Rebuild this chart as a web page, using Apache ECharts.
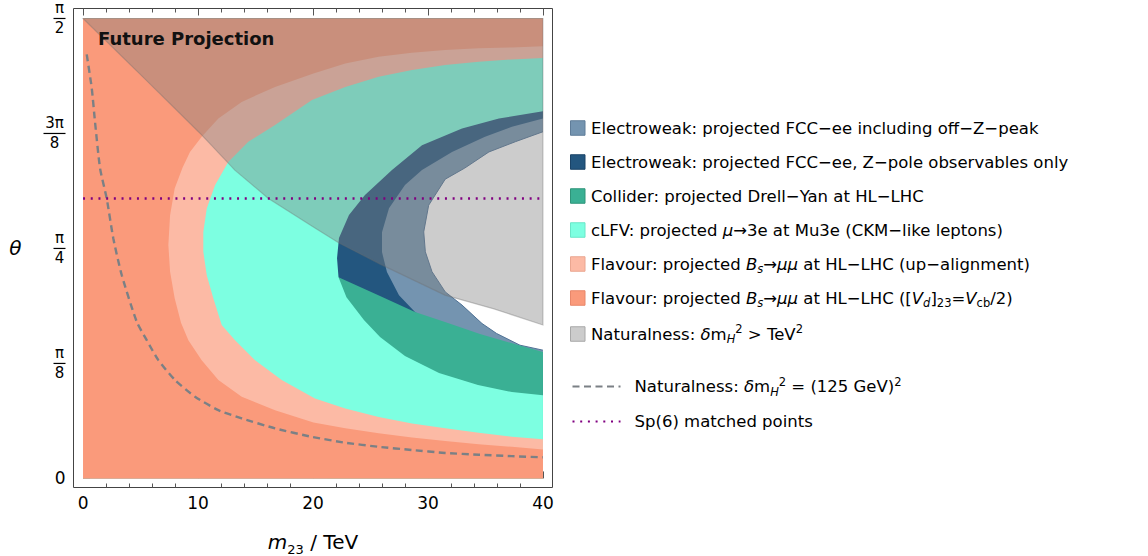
<!DOCTYPE html>
<html><head><meta charset="utf-8">
<script src="https://cdn.jsdelivr.net/npm/echarts@6/dist/echarts.min.js"></script>
<style>html,body{margin:0;padding:0;background:#fff}#c{width:1148px;height:556px}</style>
</head><body><div id="c"></div>
<script>
// ---------- axis ticks / labels ----------
const X_TICKS = [0, 10, 20, 30, 40];
const X_MINOR_TICKS = [2, 4, 6, 8, 12, 14, 16, 18, 22, 24, 26, 28, 32, 34, 36, 38];
const Y_TICKS = [0, Math.PI / 8, Math.PI / 4, 3 * Math.PI / 8, Math.PI / 2];
const Y_TICK_LABELS = ['0', 'π/8', 'π/4', '3π/8', 'π/2'];
const X_RANGE = [0, 40];
const Y_RANGE = [0, Math.PI / 2];

// ---------- series names ----------
const NAME_OFFZ = 'Electroweak: projected FCC−ee including off−Z−peak';
const NAME_ZPOLE = 'Electroweak: projected FCC−ee, Z−pole observables only';
const NAME_COLLIDER = 'Collider: projected Drell−Yan at HL−LHC';
const NAME_CLFV = 'cLFV: projected μ→3e at Mu3e (CKM−like leptons)';
const NAME_FLAV_UP = 'Flavour: projected Bs→μμ at HL−LHC (up−alignment)';
const NAME_FLAV_VD = 'Flavour: projected Bs→μμ at HL−LHC ([Vd]23=Vcb/2)';
const NAME_NAT_TEV = 'Naturalness: δmH2 > TeV2';
const NAME_NAT_125 = 'Naturalness: δmH2 = (125 GeV)2';
const NAME_SP6 = 'Sp(6) matched points';

// ---------- boundary curves, [m23 (TeV), theta (rad)] ----------
const offZBoundary = [
  [40, 1.184], [37.6, 1.150], [35.3, 1.115], [33.2, 1.060], [31.5, 1.022], [30.06, 0.933],
  [29.63, 0.842], [29.77, 0.774], [30.35, 0.706], [31.5, 0.637], [32.96, 0.592],
  [34.7, 0.529], [35.97, 0.495], [38.0, 0.455], [40, 0.438]
];
const zPoleBoundary = [
  [40, 1.229], [37.3, 1.201], [34.96, 1.167], [32.09, 1.115], [29.48, 1.053], [28.0, 1.002],
  [26.61, 0.923], [26.0, 0.841], [26.0, 0.773], [26.43, 0.705], [27.48, 0.626],
  [28.87, 0.568], [31.04, 0.513], [34.5, 0.462], [40, 0.404]
];
const colliderEdge = [
  [22.22, 0.687], [25.83, 0.623], [28.87, 0.568], [31.48, 0.534], [34.52, 0.493],
  [37.91, 0.455], [40, 0.432]
];
const cLFVBoundary = [
  [40, 1.254], [36.17, 1.229], [32.96, 1.195], [29.48, 1.138], [26.87, 1.053], [24.52, 0.968],
  [23.13, 0.900], [22.26, 0.821], [22.09, 0.752], [22.22, 0.687], [22.91, 0.619],
  [24.43, 0.541], [25.83, 0.483], [28.0, 0.418], [30.96, 0.360], [34.35, 0.319],
  [37.3, 0.295], [40, 0.284]
];
const flavourUpBoundary = [
  [40, 1.436], [37.3, 1.431], [34.41, 1.423], [31.5, 1.412], [28.61, 1.395], [25.71, 1.372],
  [22.81, 1.337], [19.91, 1.292], [16.7, 1.207], [14.37, 1.150], [12.63, 1.081],
  [11.48, 1.001], [10.76, 0.922], [10.46, 0.842], [10.46, 0.774], [10.76, 0.694],
  [11.33, 0.615], [12.06, 0.524], [13.22, 0.472], [14.96, 0.404], [17.28, 0.336],
  [20.17, 0.273], [22.81, 0.239], [25.71, 0.210], [28.61, 0.188], [31.5, 0.171],
  [34.41, 0.156], [37.3, 0.142], [40, 0.134]
];
const flavourVdBoundary = [
  [40, 1.476], [37.3, 1.472], [34.41, 1.469], [31.5, 1.463], [28.61, 1.454], [25.71, 1.440],
  [22.81, 1.417], [20.04, 1.383], [16.7, 1.337], [13.8, 1.286], [11.77, 1.229],
  [10.32, 1.167], [9.3, 1.115], [8.65, 1.061], [7.97, 0.990], [7.57, 0.899], [7.42, 0.797],
  [7.57, 0.706], [7.97, 0.615], [8.52, 0.532], [9.16, 0.472], [10.32, 0.404],
  [11.77, 0.336], [13.8, 0.279], [16.7, 0.233], [20.04, 0.191], [22.81, 0.171],
  [25.71, 0.154], [28.61, 0.140], [31.5, 0.128], [34.41, 0.117], [37.3, 0.108], [40, 0.099]
];
const naturalnessTeVEdge = [
  [0, 1.5708], [5, 1.379], [10.17, 1.179], [13.2, 1.053], [16.09, 0.957], [20.17, 0.855],
  [22.26, 0.804], [25.83, 0.732], [31.48, 0.626], [35.74, 0.579], [40, 0.524]
];
const naturalness125Curve = [
  [0.32, 1.448], [0.76, 1.332], [1.04, 1.218], [1.48, 1.059], [2.06, 0.956], [2.63, 0.820],
  [3.37, 0.694], [4.67, 0.535], [5.54, 0.472], [6.55, 0.404], [8.0, 0.336], [9.74, 0.279],
  [11.77, 0.233], [13.8, 0.205], [16.7, 0.171], [19.89, 0.142], [22.81, 0.122],
  [25.71, 0.108], [28.61, 0.097], [31.5, 0.087], [34.41, 0.081], [37.3, 0.076], [40, 0.072]
];
const sp6Theta = 0.956;
const sp6Line = [[X_RANGE[0], sp6Theta], [X_RANGE[1], sp6Theta]];

// ---------- styles ----------
const FONT = "'DejaVu Sans', 'Liberation Sans', Arial, sans-serif";
const COLORS = {
  offZ: '#7494B0', zPole: '#23567F', collider: '#3AB094', cLFV: '#7DFFE1',
  flavUp: '#FCBAA5', flavVd: '#FA9A7B', natural: 'rgba(127,127,127,0.4)'
};

const LEGEND_RICH = {};
LEGEND_RICH[NAME_CLFV] = 'cLFV: projected {i|μ}→3e at Mu3e (CKM−like leptons)';
LEGEND_RICH[NAME_FLAV_UP] = 'Flavour: projected {i|B}{si|s}→{i|μμ} at HL−LHC (up−alignment)';
LEGEND_RICH[NAME_FLAV_VD] = 'Flavour: projected {i|B}{si|s}→{i|μμ} at HL−LHC ([{i|V}{si|d}]{s|23}={i|V}{s|cb}/2)';
LEGEND_RICH[NAME_NAT_TEV] = 'Naturalness: {i|δ}m{si|H}{p|2} > TeV{p|2}';
LEGEND_RICH[NAME_NAT_125] = 'Naturalness: {i|δ}m{si|H}{p|2} = (125 GeV){p|2}';

// ---------- polygon builders (from data ranges) ----------
function leftOfCurve(curve) {
  return curve.concat([[X_RANGE[1], Y_RANGE[0]], [X_RANGE[0], Y_RANGE[0]],
                       [X_RANGE[0], Y_RANGE[1]], [X_RANGE[1], Y_RANGE[1]]]);
}
function belowEdge(edge) {
  const f = edge[0];
  return edge.concat([[X_RANGE[1], Y_RANGE[0]], [f[0] - 1, Y_RANGE[0]], [f[0] - 1, f[1]]]);
}
function aboveEdge(edge) {
  return edge.concat([[X_RANGE[1], Y_RANGE[1]]]);
}

function regionSeries(name, polygon, fill, legendBorder, opts) {
  opts = opts || {};
  return {
    name, type: 'custom', coordinateSystem: 'cartesian2d', silent: true, z: 2,
    itemStyle: { color: fill, borderColor: legendBorder, borderWidth: 1 },
    data: polygon,
    renderItem(params, api) {
      if (params.dataIndex !== 0) return null;
      const pts = polygon.map(p => api.coord(p));
      const children = [{
        type: 'polygon', shape: { points: pts },
        style: { fill: fill, stroke: opts.stroke || null, lineWidth: opts.stroke ? 1.2 : 0 }
      }];
      if (opts.edge) {
        children.push({
          type: 'polyline', shape: { points: opts.edge.map(p => api.coord(p)) },
          style: { fill: null, stroke: opts.edgeColor, lineWidth: 1 }
        });
      }
      return { type: 'group', children };
    }
  };
}

function xAxisDef(pos, ticks, len, withLabels, extra) {
  return Object.assign({
    type: 'value', position: pos, min: -0.83, max: 40.83,
    axisLine: { show: false }, splitLine: { show: false },
    axisTick: { show: true, inside: true, length: len, customValues: ticks, lineStyle: { color: '#555', width: 1 } },
    axisLabel: withLabels ? { show: true, customValues: ticks, fontSize: 17, color: '#000', margin: 7, fontFamily: FONT } : { show: false }
  }, extra || {});
}

const legendText = {
  fontFamily: FONT, fontSize: 16.5, color: '#000', lineHeight: 22,
  rich: {
    i: { fontFamily: FONT, fontSize: 16.5, fontStyle: 'italic', lineHeight: 22, verticalAlign: 'middle' },
    s: { fontFamily: FONT, fontSize: 11.5, lineHeight: 22, verticalAlign: 'bottom' },
    si: { fontFamily: FONT, fontSize: 11.5, fontStyle: 'italic', lineHeight: 22, verticalAlign: 'bottom' },
    p: { fontFamily: FONT, fontSize: 11.5, lineHeight: 22, verticalAlign: 'top' }
  }
};
const legendFormatter = name => LEGEND_RICH[name] || name;

const chart = echarts.init(document.getElementById('c'), null, { renderer: 'svg' });
chart.setOption({
  animation: false,
  backgroundColor: '#fff',
  textStyle: { fontFamily: FONT },
  title: {
    text: 'Future Projection', left: 98, top: 28, padding: 0,
    textStyle: { fontFamily: FONT, fontSize: 18, fontWeight: 'bold', color: '#111', lineHeight: 20 }
  },
  grid: {
    show: true, left: 73.5, top: 8.5, width: 479, height: 479,
    borderColor: '#444', borderWidth: 1, backgroundColor: 'transparent',
    containLabel: false, outerBoundsMode: 'none'
  },
  xAxis: [
    xAxisDef('bottom', X_TICKS, 7, true, {
      name: '{i|m}{s|23} / TeV', nameLocation: 'middle', nameGap: 40,
      nameTextStyle: {
        fontFamily: FONT, fontSize: 20, color: '#000', lineHeight: 28,
        rich: {
          i: { fontFamily: FONT, fontSize: 20, fontStyle: 'italic', lineHeight: 28, verticalAlign: 'middle' },
          s: { fontFamily: FONT, fontSize: 13, lineHeight: 28, verticalAlign: 'bottom' }
        }
      }
    }),
    xAxisDef('bottom', X_MINOR_TICKS, 4, false),
    xAxisDef('top', X_TICKS, 7, false),
    xAxisDef('top', X_MINOR_TICKS, 4, false)
  ],
  yAxis: [{
    type: 'value', position: 'left', min: -0.031, max: 1.6049,
    axisLine: { show: false }, splitLine: { show: false },
    axisTick: { show: true, inside: true, length: 7, customValues: Y_TICKS, lineStyle: { color: '#555', width: 1 } },
    axisLabel: {
      show: true, customValues: Y_TICKS, margin: 8, fontSize: 17, color: '#000', fontFamily: FONT,
      align: 'right', verticalAlign: 'middle',
      formatter: v => {
        const i = Y_TICKS.findIndex(t => Math.abs(t - v) < 1e-6);
        const lab = Y_TICK_LABELS[i < 0 ? 0 : i];
        if (lab.indexOf('/') < 0) return lab;
        const parts = lab.split('/');
        return '{n|' + parts[0] + '}\n{' + (parts[0].length > 1 ? 'barW' : 'bar') + '| }\n{d|' + parts[1] + '}';
      },
      rich: {
        n: { fontFamily: FONT, fontSize: 15, lineHeight: 16, align: 'center', color: '#000' },
        d: { fontFamily: FONT, fontSize: 15, lineHeight: 16, align: 'center', color: '#000' },
        bar: { width: 12, height: 1.2, lineHeight: 4, fontSize: 4, backgroundColor: '#000', align: 'center' },
        barW: { width: 22, height: 1.2, lineHeight: 4, fontSize: 4, backgroundColor: '#000', align: 'center' }
      }
    },
    name: 'θ', nameLocation: 'middle', nameGap: 52, nameRotate: 0,
    nameTextStyle: { fontFamily: FONT, fontSize: 20, fontStyle: 'italic', color: '#000' }
  }],
  legend: [
    {
      orient: 'vertical', left: 570, top: 117, padding: 0, itemGap: 12, selectedMode: false,
      icon: 'rect', itemWidth: 14.5, itemHeight: 14.5,
      textStyle: Object.assign({}, legendText, { padding: [0, 0, 0, 1] }), formatter: legendFormatter,
      data: [
        { name: NAME_OFFZ, itemStyle: { borderColor: '#5f7c98', borderWidth: 1 } },
        { name: NAME_ZPOLE, itemStyle: { borderColor: '#1a4367', borderWidth: 1 } },
        { name: NAME_COLLIDER, itemStyle: { borderColor: '#2f9479', borderWidth: 1 } },
        { name: NAME_CLFV, itemStyle: { borderColor: '#6ae6c8', borderWidth: 1 } },
        { name: NAME_FLAV_UP, itemStyle: { borderColor: '#eaa690', borderWidth: 1 } },
        { name: NAME_FLAV_VD, itemStyle: { borderColor: '#e8876a', borderWidth: 1 } }
      ]
    },
    {
      orient: 'vertical', left: 570, top: 323, padding: 0, selectedMode: false,
      icon: 'rect', itemWidth: 14.5, itemHeight: 14.5,
      textStyle: Object.assign({}, legendText, { padding: [0, 0, 0, 1] }), formatter: legendFormatter,
      data: [{ name: NAME_NAT_TEV, itemStyle: { borderColor: '#a8a8a8', borderWidth: 1 } }]
    },
    {
      orient: 'vertical', left: 571.5, top: 375.5, padding: 0, itemGap: 13, selectedMode: false,
      itemWidth: 48, itemHeight: 14,
      textStyle: Object.assign({}, legendText, { padding: [0, 0, 0, 9] }), formatter: legendFormatter,
      data: [
        { name: NAME_NAT_125, itemStyle: { opacity: 0 } },
        { name: NAME_SP6, itemStyle: { opacity: 0 } }
      ]
    }
  ],
  series: [
    regionSeries(NAME_OFFZ, leftOfCurve(offZBoundary), COLORS.offZ, '#5f7c98', { edge: offZBoundary, edgeColor: '#4f7295' }),
    regionSeries(NAME_ZPOLE, leftOfCurve(zPoleBoundary), COLORS.zPole, '#1a4367'),
    regionSeries(NAME_COLLIDER, belowEdge(colliderEdge), COLORS.collider, '#2f9479'),
    regionSeries(NAME_CLFV, leftOfCurve(cLFVBoundary), COLORS.cLFV, '#6ae6c8'),
    regionSeries(NAME_FLAV_UP, leftOfCurve(flavourUpBoundary), COLORS.flavUp, '#eaa690'),
    regionSeries(NAME_FLAV_VD, leftOfCurve(flavourVdBoundary), COLORS.flavVd, '#e8876a'),
    regionSeries(NAME_NAT_TEV, aboveEdge(naturalnessTeVEdge), COLORS.natural, '#a8a8a8', { stroke: 'rgba(110,110,110,0.35)' }),
    {
      name: NAME_NAT_125, type: 'line', data: naturalness125Curve, symbol: 'none', showSymbol: false,
      smooth: 0.2, z: 4, silent: true,
      lineStyle: { color: '#7b8085', width: 2.4, type: [7, 4.5] }
    },
    {
      name: NAME_SP6, type: 'line', data: sp6Line, symbol: 'none', showSymbol: false, z: 4, silent: true,
      lineStyle: { color: '#800080', width: 2.4, type: [2, 5.7] }
    }
  ]
});
</script></body></html>
